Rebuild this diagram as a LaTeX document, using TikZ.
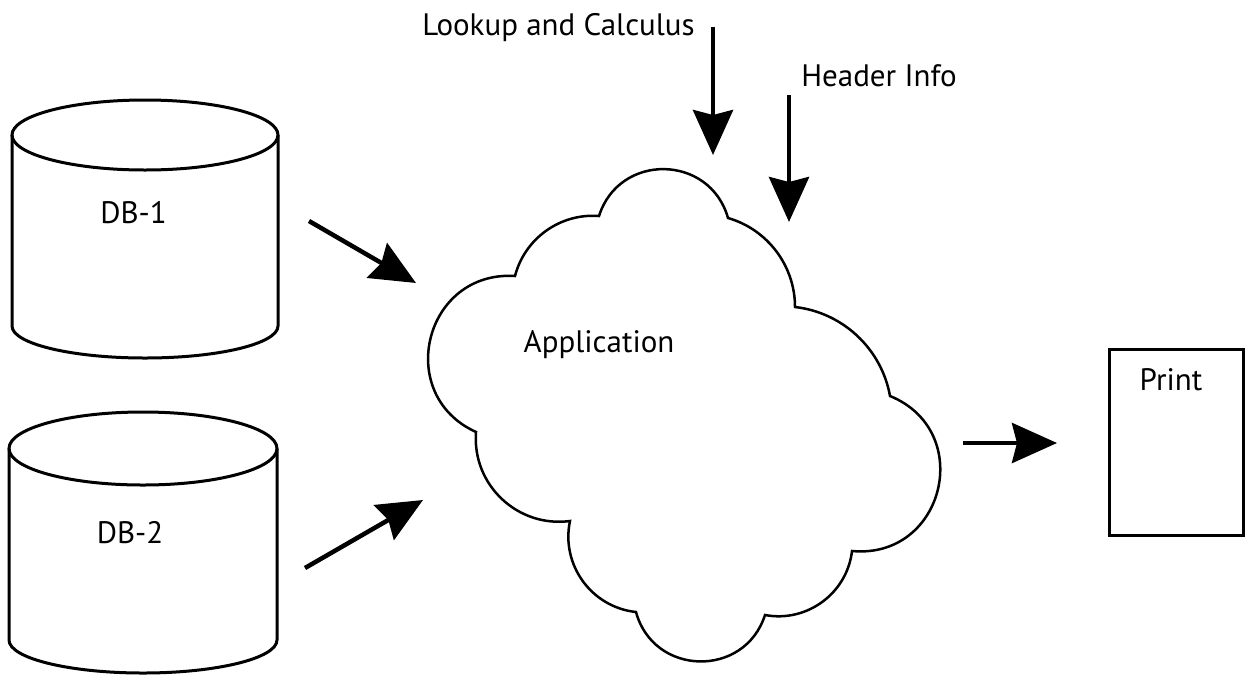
\documentclass[tikz,border=0pt]{standalone}
\usepackage{fontspec}
\setmainfont{PT Sans}
\usetikzlibrary{arrows.meta}
\begin{document}
\begin{tikzpicture}[x=1pt,y=-1pt,
  lbl/.style={inner sep=0pt,anchor=base,font=\fontsize{31}{36}\selectfont},
  flow/.style={line width=4.5pt,-{Stealth[length=45pt,width=40pt,inset=5pt]}},
  db/.style={line width=3pt},
  cloudline/.style={line width=2.5pt,line join=miter}]
\useasboundingbox (0,0) rectangle (1246,675);
% DB-1
\draw[db] (12,135) -- (12,326) arc[start angle=180,end angle=360,x radius=133pt,y radius=32pt] -- (278,135);
\draw[db] (145,135) ellipse[x radius=133pt,y radius=35pt];
\node[lbl] (db1) at (133.5,223) {DB-1};
% DB-2
\draw[db] (9,448.5) -- (9,640) arc[start angle=180,end angle=360,x radius=134pt,y radius=33pt] -- (277,448.5);
\draw[db] (143,448.5) ellipse[x radius=134pt,y radius=36.5pt];
\node[lbl] (db2) at (130,543) {DB-2};
% cloud
\coordinate (c1) at (599,216);
\coordinate (c2) at (728,218);
\coordinate (c3) at (795,307);
\coordinate (c4) at (890,396);
\coordinate (c5) at (852,551);
\coordinate (c6) at (765,615);
\coordinate (c7) at (636,612);
\coordinate (c8) at (570,521);
\coordinate (c9) at (476,432);
\coordinate (c10) at (515,276);
\draw[cloudline] (c1) to[bend left=73.3,looseness=1.32] (c2)
  to[bend left=37,looseness=0.945] (c3)
  to[bend left=36.6,looseness=0.945] (c4)
  to[bend left=81.5,looseness=1.486] (c5)
  to[bend left=47,looseness=1.012] (c6)
  to[bend left=73.5,looseness=1.32] (c7)
  to[bend left=48,looseness=1.02] (c8)
  to[bend left=51,looseness=1.045] (c9)
  to[bend left=79.6,looseness=1.443] (c10)
  to[bend left=40,looseness=0.964] (c1) -- cycle;
\node[lbl] (app) at (599,352) {Application};
% print
\node[draw,line width=3pt,minimum width=134pt,minimum height=186pt,inner sep=0pt] (print) at (1176.5,442.5) {};
\node[lbl] (printlbl) at (1171,390) {Print};
% labels
\node[lbl] (lookup) at (558.5,35) {Lookup and Calculus};
\node[lbl] (header) at (879,86) {Header Info};
% arrow ends
\coordinate (a1s) at (309,221);
\coordinate (a1e) at (416,283);
\coordinate (a2s) at (305,568);
\coordinate (a2e) at (423,500);
\coordinate (a3s) at (713,27);
\coordinate (a3e) at (713,155);
\coordinate (a4s) at (789,95);
\coordinate (a4e) at (789,222);
\coordinate (a5s) at (963,443);
\coordinate (a5e) at (1057,443);
\draw[flow] (a1s) -- (a1e);
\draw[flow] (a2s) -- (a2e);
\draw[flow] (a3s) -- (a3e);
\draw[flow] (a4s) -- (a4e);
\draw[flow] (a5s) -- (a5e);
\end{tikzpicture}
\end{document}
